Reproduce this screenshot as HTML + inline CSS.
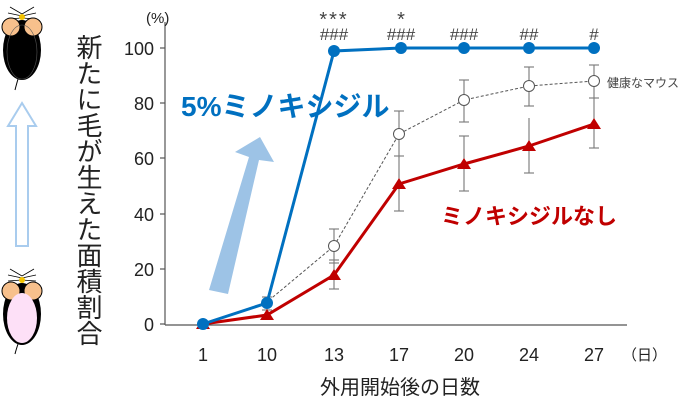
<!DOCTYPE html>
<html><head><meta charset="utf-8"><style>
html,body{margin:0;padding:0;background:#fff;}
svg{display:block;font-family:"Liberation Sans","Noto Sans CJK JP",sans-serif;}
</style></head><body>
<svg width="700" height="407" viewBox="0 0 700 407" xmlns="http://www.w3.org/2000/svg">
<g>
<g stroke="#000" stroke-width="0.8">
<line x1="22" y1="14" x2="10" y2="7"/><line x1="22" y1="16" x2="8" y2="13"/><line x1="22" y1="18" x2="8" y2="19"/>
<line x1="22" y1="14" x2="34" y2="7"/><line x1="22" y1="16" x2="36" y2="13"/><line x1="22" y1="18" x2="36" y2="19"/>
</g>
<ellipse cx="22" cy="50" rx="19" ry="30" fill="#000"/>
<circle cx="11" cy="27" r="9" fill="#f7c08c" stroke="#000" stroke-width="1"/>
<circle cx="33" cy="27" r="9" fill="#f7c08c" stroke="#000" stroke-width="1"/>
<circle cx="22" cy="17" r="3" fill="#f2c200"/>
<ellipse cx="22" cy="52" rx="15" ry="27" fill="none" stroke="#555" stroke-width="0.6"/>
<path d="M18 79 Q16 86 15 90" stroke="#000" fill="none"/>
</g>
<g transform="translate(0,236)">
<g stroke="#000" stroke-width="0.8">
<line x1="22" y1="40" x2="10" y2="33"/><line x1="22" y1="42" x2="8" y2="39"/><line x1="22" y1="44" x2="8" y2="45"/>
<line x1="22" y1="40" x2="34" y2="33"/><line x1="22" y1="42" x2="36" y2="39"/><line x1="22" y1="44" x2="36" y2="45"/>
</g>
<ellipse cx="22" cy="78" rx="19" ry="31" fill="#000"/>
<circle cx="11" cy="55" r="9" fill="#f7c08c" stroke="#000" stroke-width="1"/>
<circle cx="33" cy="55" r="9" fill="#f7c08c" stroke="#000" stroke-width="1"/>
<circle cx="22" cy="44" r="3" fill="#f2c200"/>
<ellipse cx="22" cy="82" rx="15" ry="25" fill="#fde0f7"/>
<path d="M18 108 Q16 114 15 118" stroke="#000" fill="none"/>
</g>
<path d="M22 103 L36 126 L28 126 L28 246 L16 246 L16 126 L8 126 Z" fill="#fff" stroke="#a9ccee" stroke-width="2"/>
<text x="88" y="34" font-size="26" fill="#222" style="writing-mode:vertical-rl" letter-spacing="0">新たに毛が生えた面積割合</text>
<g stroke="#555" stroke-width="1.2" fill="none">
<line x1="165" y1="22" x2="165" y2="325"/>
<line x1="165" y1="325" x2="627" y2="325"/>
<line x1="160" y1="48" x2="165" y2="48"/><line x1="160" y1="103" x2="165" y2="103"/>
<line x1="160" y1="158" x2="165" y2="158"/><line x1="160" y1="214" x2="165" y2="214"/>
<line x1="160" y1="269" x2="165" y2="269"/><line x1="160" y1="324" x2="165" y2="324"/>
</g>
<g font-size="18" fill="#222" text-anchor="end">
<text x="154" y="55">100</text><text x="154" y="110">80</text><text x="154" y="165">60</text>
<text x="154" y="221">40</text><text x="154" y="276">20</text><text x="154" y="331">0</text>
</g>
<text x="146" y="23" font-size="15" fill="#222">(%)</text>
<g font-size="18" fill="#222" text-anchor="middle">
<text x="203" y="361">1</text><text x="267" y="361">10</text><text x="334" y="361">13</text>
<text x="399" y="361">17</text><text x="464" y="361">20</text><text x="529" y="361">24</text><text x="594" y="361">27</text>
</g>
<text x="622" y="360" font-size="15" fill="#222">（日）</text>
<text x="400" y="394" font-size="20" fill="#222" text-anchor="middle">外用開始後の日数</text>
<path d="M209 290 L228 294 L259 160 L274 162 L260 137 L235 152 L249 157 Z" fill="#9dc3e6"/>
<g stroke="#777" stroke-width="1.1">
<line x1="334" y1="229" x2="334" y2="260"/><line x1="329" y1="229" x2="339" y2="229"/><line x1="329" y1="260" x2="339" y2="260"/>
<line x1="399" y1="111" x2="399" y2="158"/><line x1="394" y1="111" x2="404" y2="111"/><line x1="394" y1="156" x2="404" y2="156"/>
<line x1="464" y1="80" x2="464" y2="122"/><line x1="459" y1="80" x2="469" y2="80"/><line x1="459" y1="122" x2="469" y2="122"/>
<line x1="529" y1="67" x2="529" y2="106"/><line x1="524" y1="67" x2="534" y2="67"/><line x1="524" y1="106" x2="534" y2="106"/>
<line x1="594" y1="65" x2="594" y2="100"/><line x1="589" y1="65" x2="599" y2="65"/><line x1="589" y1="98" x2="599" y2="98"/>
<line x1="334" y1="260" x2="334" y2="289"/><line x1="329" y1="289" x2="339" y2="289"/><line x1="329" y1="263" x2="339" y2="263"/>
<line x1="399" y1="157" x2="399" y2="211"/><line x1="394" y1="211" x2="404" y2="211"/>
<line x1="464" y1="136" x2="464" y2="191"/><line x1="459" y1="136" x2="469" y2="136"/><line x1="459" y1="191" x2="469" y2="191"/>
<line x1="529" y1="118" x2="529" y2="173"/><line x1="524" y1="173" x2="534" y2="173"/>
<line x1="594" y1="100" x2="594" y2="148"/><line x1="589" y1="148" x2="599" y2="148"/>
<line x1="267" y1="297" x2="267" y2="310"/><line x1="262" y1="297" x2="272" y2="297"/><line x1="262" y1="310" x2="272" y2="310"/>
</g>
<polyline points="203,324 267,302 334,246 399,134 464,100 529,86 594,81" fill="none" stroke="#555" stroke-width="1" stroke-dasharray="3,2"/>
<g fill="#fff" stroke="#555" stroke-width="1">
<circle cx="334" cy="246" r="5.5"/><circle cx="399" cy="134" r="5.5"/><circle cx="464" cy="100" r="5.5"/>
<circle cx="529" cy="86" r="5.5"/><circle cx="594" cy="81" r="5.5"/>
</g>
<text x="607" y="87" font-size="12" fill="#444">健康なマウス</text>
<polyline points="203,324 267,315 334,275 399,184 464,164 529,146 594,124" fill="none" stroke="#c00000" stroke-width="3"/>
<g fill="#c00000">
<path d="M203 318 L210 329 L196 329Z"/><path d="M267 309 L274 320 L260 320Z"/><path d="M334 269 L341 280 L327 280Z"/>
<path d="M399 178 L406 189 L392 189Z"/><path d="M464 158 L471 169 L457 169Z"/><path d="M529 140 L536 151 L522 151Z"/><path d="M594 118 L601 129 L587 129Z"/>
</g>
<polyline points="203,324 267,303 334,51 401,48 594,48" fill="none" stroke="#0070c0" stroke-width="3"/>
<g fill="#0070c0">
<circle cx="203" cy="324" r="6"/><circle cx="267" cy="303" r="6"/><circle cx="334" cy="51" r="6"/>
<circle cx="401" cy="48" r="6"/><circle cx="464" cy="48" r="6"/><circle cx="529" cy="48" r="6"/><circle cx="594" cy="48" r="6"/>
</g>
<g font-size="17" fill="#444" text-anchor="middle">
<text x="334" y="26" font-size="20" letter-spacing="2">***</text>
<text x="401" y="26" font-size="20">*</text>
<text x="334" y="40">###</text><text x="401" y="40">###</text><text x="464" y="40">###</text>
<text x="529" y="40">##</text><text x="594" y="40">#</text>
</g>
<text x="181" y="116" font-size="28" font-weight="bold" fill="#0070c0">5%ミノキシジル</text>
<text x="441" y="224" font-size="22" font-weight="bold" fill="#c00000">ミノキシジルなし</text>
</svg>
</body></html>
